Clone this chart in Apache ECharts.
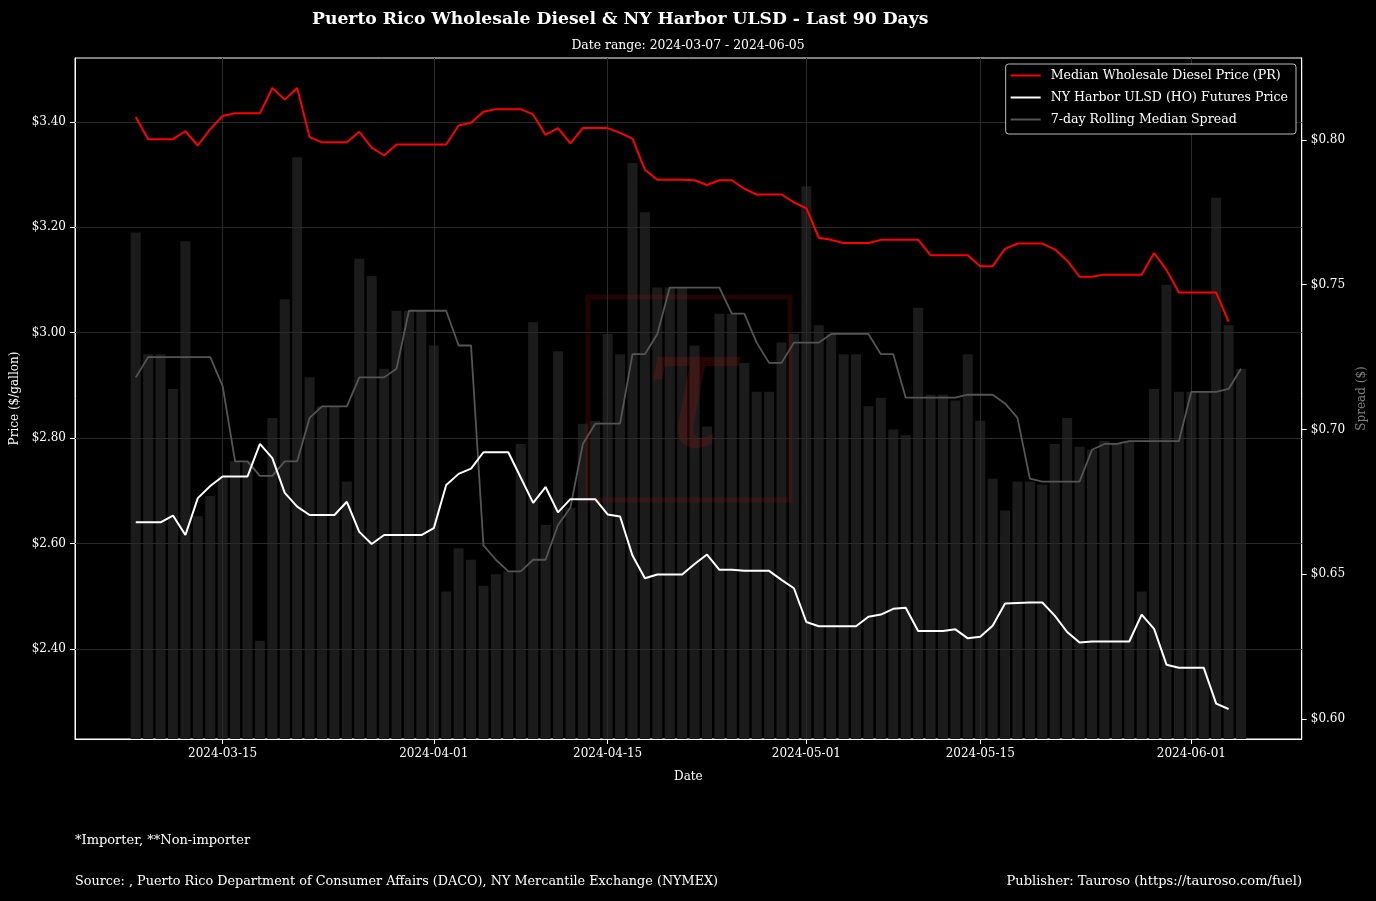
<!DOCTYPE html>
<html>
<head>
<meta charset="utf-8">
<script src="https://cdn.jsdelivr.net/npm/echarts@6/dist/echarts.min.js"></script>
<style>
  html, body { margin: 0; padding: 0; background: #000; }
  #chart { width: 1376px; height: 901px; }
</style>
</head>
<body>
<div id="chart"></div>
<script>
// daily series, first point 2024-03-08
const startDay = "2024-03-08";
const prPrice = [
  3.409, 3.367, 3.367, 3.367, 3.382, 3.355, 3.386, 3.411, 3.416, 3.416,
  3.416, 3.464, 3.442, 3.464, 3.371, 3.361, 3.361, 3.361, 3.381, 3.351,
  3.336, 3.357, 3.357, 3.357, 3.357, 3.357, 3.393, 3.398, 3.419, 3.424,
  3.424, 3.424, 3.414, 3.375, 3.388, 3.359, 3.388, 3.388, 3.388, 3.379,
  3.368, 3.309, 3.290, 3.290, 3.290, 3.289, 3.280, 3.289, 3.289, 3.273,
  3.262, 3.262, 3.262, 3.247, 3.236, 3.180, 3.176, 3.170, 3.170, 3.170,
  3.176, 3.176, 3.176, 3.176, 3.147, 3.147, 3.147, 3.147, 3.126, 3.126,
  3.159, 3.169, 3.169, 3.169, 3.158, 3.137, 3.106, 3.106, 3.110, 3.110,
  3.110, 3.110, 3.151, 3.119, 3.076, 3.076, 3.076, 3.076, 3.021, null
];
const hoPrice = [
  2.640, 2.640, 2.640, 2.653, 2.616, 2.686, 2.709, 2.727, 2.727, 2.727,
  2.789, 2.762, 2.696, 2.670, 2.654, 2.654, 2.654, 2.679, 2.622, 2.599,
  2.616, 2.616, 2.616, 2.616, 2.629, 2.711, 2.732, 2.742, 2.773, 2.773,
  2.773, 2.725, 2.677, 2.707, 2.659, 2.684, 2.684, 2.684, 2.655, 2.651,
  2.577, 2.534, 2.541, 2.541, 2.541, 2.561, 2.579, 2.550, 2.550, 2.548,
  2.548, 2.548, 2.531, 2.515, 2.451, 2.443, 2.443, 2.443, 2.443, 2.461,
  2.465, 2.476, 2.478, 2.434, 2.434, 2.434, 2.437, 2.420, 2.423, 2.444,
  2.486, 2.487, 2.488, 2.488, 2.463, 2.432, 2.412, 2.414, 2.414, 2.414,
  2.414, 2.465, 2.438, 2.370, 2.364, 2.364, 2.364, 2.296, 2.286, null
];
const dailySpread = [
  0.768, 0.726, 0.726, 0.714, 0.765, 0.670, 0.677, 0.684, 0.689, 0.689,
  0.627, 0.704, 0.745, 0.794, 0.718, 0.708, 0.708, 0.682, 0.759, 0.753,
  0.721, 0.741, 0.741, 0.741, 0.729, 0.644, 0.659, 0.655, 0.646, 0.650,
  0.651, 0.695, 0.737, 0.667, 0.727, 0.673, 0.702, 0.703, 0.733, 0.726,
  0.792, 0.775, 0.749, 0.749, 0.749, 0.729, 0.701, 0.740, 0.740, 0.723,
  0.713, 0.713, 0.730, 0.733, 0.784, 0.736, 0.733, 0.726, 0.726, 0.708,
  0.711, 0.700, 0.698, 0.742, 0.712, 0.712, 0.710, 0.726, 0.703, 0.683,
  0.672, 0.682, 0.682, 0.681, 0.695, 0.704, 0.694, 0.693, 0.696, 0.695,
  0.696, 0.644, 0.714, 0.750, 0.713, 0.713, 0.713, 0.780, 0.736, 0.721
];
const rollingSpread = [
  0.718, 0.725, 0.725, 0.725, 0.725, 0.725, 0.725, 0.715, 0.689, 0.689,
  0.684, 0.684, 0.689, 0.689, 0.704, 0.708, 0.708, 0.708, 0.718, 0.718,
  0.718, 0.721, 0.741, 0.741, 0.741, 0.741, 0.729, 0.729, 0.660, 0.655,
  0.651, 0.651, 0.655, 0.655, 0.667, 0.673, 0.695, 0.702, 0.702, 0.702,
  0.726, 0.726, 0.733, 0.749, 0.749, 0.749, 0.749, 0.749, 0.740, 0.740,
  0.730, 0.723, 0.723, 0.730, 0.730, 0.730, 0.733, 0.733, 0.733, 0.733,
  0.726, 0.726, 0.711, 0.711, 0.711, 0.711, 0.711, 0.712, 0.712, 0.712,
  0.709, 0.704, 0.683, 0.682, 0.682, 0.682, 0.682, 0.693, 0.695, 0.695,
  0.696, 0.696, 0.696, 0.696, 0.696, 0.713, 0.713, 0.713, 0.714, 0.721
];
const dateTicks = ["2024-03-15", "2024-04-01", "2024-04-15", "2024-05-01", "2024-05-15", "2024-06-01"];
const priceTicks = [2.4, 2.6, 2.8, 3.0, 3.2, 3.4];
const spreadTicks = [0.60, 0.65, 0.70, 0.75, 0.80];

const DAY = 86400000;
const t0 = Date.parse(startDay + "T00:00:00Z");
const days = dailySpread.map((v, i) => t0 + i * DAY);
const pair = (arr) => arr.map((v, i) => [days[i], v]);
const tickTimes = dateTicks.map((d) => Date.parse(d + "T00:00:00Z"));
const fmtDate = (v) => new Date(v).toISOString().slice(0, 10);
const fmtMoney = (v) => "$" + v.toFixed(2);

const FONT = "DejaVu Serif";
const gridColor = "#2a2a2a";

let chartDom = document.getElementById("chart");
let myChart = echarts.init(chartDom, null, { renderer: "canvas" });

const option = {
  backgroundColor: "#000",
  animation: false,
  textStyle: { fontFamily: FONT },
  title: [
    {
      text: "Puerto Rico Wholesale Diesel & NY Harbor ULSD - Last 90 Days",
      left: 307,
      top: 6,
      textStyle: { color: "#fff", fontSize: 17.2, fontWeight: "bold", fontFamily: FONT },
    },
    {
      text: "Date range: 2024-03-07 - 2024-06-05",
      left: "center",
      top: 35,
      textStyle: { color: "#fff", fontSize: 12.4, fontWeight: "normal", fontFamily: FONT },
    },
  ],
  grid: {
    left: 75,
    right: 74,
    top: 58,
    bottom: 162,
    show: true,
    borderColor: "#fff",
    borderWidth: 1,
    backgroundColor: "#000",
  },
  legend: {
    orient: "vertical",
    right: 80,
    top: 64,
    icon: "rect",
    itemWidth: 30,
    itemHeight: 2,
    itemGap: 7,
    padding: [4, 8, 7, 5],
    backgroundColor: "#000",
    borderColor: "#bbb",
    borderWidth: 1,
    borderRadius: 3,
    textStyle: { color: "#fff", fontSize: 12.6, lineHeight: 15, fontFamily: FONT, padding: [0, 0, 0, 5] },
    data: ["Median Wholesale Diesel Price (PR)", "NY Harbor ULSD (HO) Futures Price", "7-day Rolling Median Spread"],
  },
  xAxis: {
    type: "value",
    min: t0 - 4.89 * DAY,
    max: t0 + 93.89 * DAY,
    name: "Date",
    nameLocation: "middle",
    nameGap: 32,
    nameTextStyle: { color: "#fff", fontSize: 12, fontFamily: FONT },
    axisLine: { show: true, onZero: false, lineStyle: { color: "#fff", width: 1 } },
    axisTick: { show: true, length: 5, lineStyle: { color: "#fff" }, customValues: tickTimes },
    axisLabel: {
      color: "#fff",
      fontSize: 12,
      fontFamily: FONT,
      margin: 9,
      customValues: tickTimes,
      formatter: fmtDate,
    },
    splitLine: { show: false },
  },
  yAxis: [
    {
      type: "value",
      position: "left",
      min: 2.229,
      max: 3.521,
      name: "Price ($/gallon)",
      nameLocation: "middle",
      nameGap: 50,
      nameTextStyle: { color: "#fff", fontSize: 12, fontFamily: FONT },
      axisLine: { show: true, onZero: false, lineStyle: { color: "#fff" } },
      axisTick: { show: true, length: 5, lineStyle: { color: "#fff" }, customValues: priceTicks },
      axisLabel: { color: "#fff", fontSize: 12, fontFamily: FONT, margin: 9, customValues: priceTicks, formatter: fmtMoney },
      splitLine: { show: false },
    },
    {
      type: "value",
      position: "right",
      min: 0.5931,
      max: 0.8283,
      name: "Spread ($)",
      nameLocation: "middle",
      nameGap: 48,
      nameTextStyle: { color: "#808080", fontSize: 12, fontFamily: FONT },
      axisLine: { show: true, onZero: false, lineStyle: { color: "#fff" } },
      axisTick: { show: true, length: 5, lineStyle: { color: "#fff" }, customValues: spreadTicks },
      axisLabel: { color: "#fff", fontSize: 12, fontFamily: FONT, margin: 9, customValues: spreadTicks, formatter: fmtMoney },
      splitLine: { show: false },
    },
  ],
  graphic: [
    // faint logo watermark in the middle of the plot
    {
      type: "rect",
      z: 1,
      shape: { x: 588, y: 297, width: 202, height: 203 },
      style: { fill: "none", stroke: "rgba(160,20,20,0.2)", lineWidth: 5 },
    },
    {
      type: "text",
      z: 1,
      x: 690,
      y: 402,
      style: {
        text: "τ",
        fill: "rgba(170,20,20,0.22)",
        font: "italic 175px DejaVu Serif",
        align: "center",
        verticalAlign: "middle",
      },
    },
    {
      type: "text",
      x: 75,
      y: 841,
      style: { text: "*Importer, **Non-importer", fill: "#fff", font: "13px DejaVu Serif", verticalAlign: "middle" },
    },
    {
      type: "text",
      x: 75,
      y: 882,
      style: {
        text: "Source: , Puerto Rico Department of Consumer Affairs (DACO), NY Mercantile Exchange (NYMEX)",
        fill: "#fff",
        font: "12.8px DejaVu Serif",
        verticalAlign: "middle",
      },
    },
    {
      type: "text",
      x: 1302,
      y: 882,
      style: {
        text: "Publisher: Tauroso (https://tauroso.com/fuel)",
        fill: "#fff",
        font: "13px DejaVu Serif",
        align: "right",
        verticalAlign: "middle",
      },
    },
  ],
  series: [
    {
      name: "Daily Spread",
      type: "bar",
      yAxisIndex: 1,
      barWidth: 10,
      z: 0,
      itemStyle: { color: "#1b1b1b" },
      data: pair(dailySpread),
    },
    {
      // grid lines sit above the bars, below the price lines
      name: "grid",
      type: "line",
      yAxisIndex: 0,
      data: [],
      silent: true,
      markLine: {
        z: 1,
        silent: true,
        animation: false,
        symbol: ["none", "none"],
        label: { show: false },
        lineStyle: { color: gridColor, width: 1, type: "solid" },
        data: tickTimes.map((t) => ({ xAxis: t })).concat(priceTicks.map((p) => ({ yAxis: p }))),
      },
    },
    {
      name: "7-day Rolling Median Spread",
      type: "line",
      yAxisIndex: 1,
      symbol: "none",
      z: 3,
      lineStyle: { color: "#555", width: 1.8 },
      itemStyle: { color: "#555" },
      data: pair(rollingSpread),
    },
    {
      name: "Median Wholesale Diesel Price (PR)",
      type: "line",
      yAxisIndex: 0,
      symbol: "none",
      z: 4,
      lineStyle: { color: "#ff0000", width: 2 },
      itemStyle: { color: "#ff0000" },
      data: pair(prPrice),
    },
    {
      name: "NY Harbor ULSD (HO) Futures Price",
      type: "line",
      yAxisIndex: 0,
      symbol: "none",
      z: 4,
      lineStyle: { color: "#ffffff", width: 2 },
      itemStyle: { color: "#ffffff" },
      data: pair(hoPrice),
    },
  ],
};

option && myChart.setOption(option);
</script>
</body>
</html>
